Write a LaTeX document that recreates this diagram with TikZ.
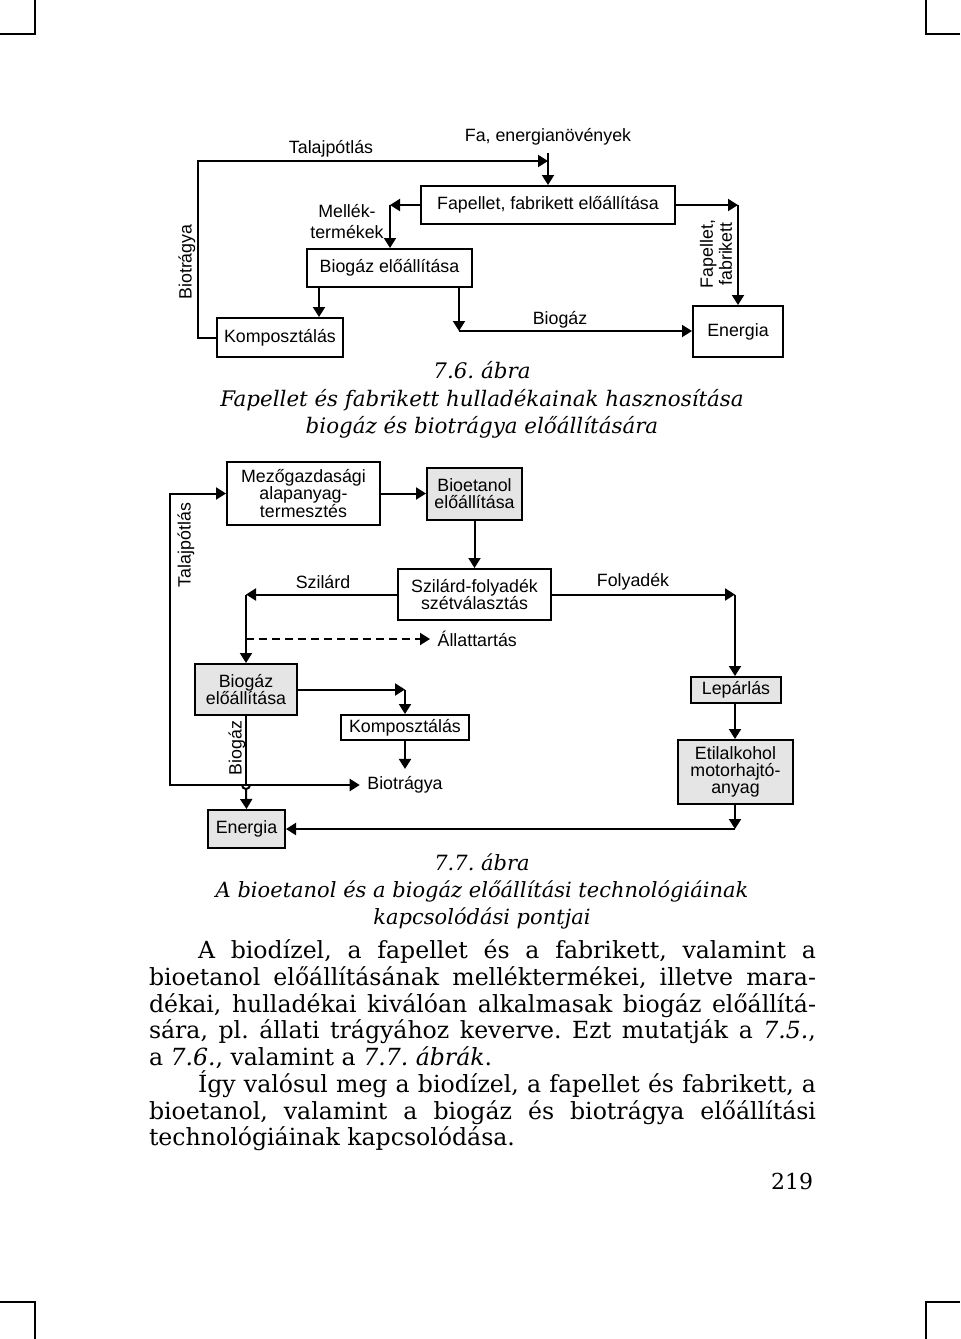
\documentclass[tikz,border=0pt]{standalone}
\usepackage{fontspec}
\setmainfont{DejaVu Serif}
\setsansfont{Liberation Sans}
\usetikzlibrary{arrows.meta}
\newcommand{\jline}[1]{\hbox to 333.5pt{#1}}
\frenchspacing

\begin{document}
\begin{tikzpicture}[x=0.5pt, y=-0.5pt, line width=1pt,
	font=\sffamily\fontsize{8.9}{8.6}\selectfont,
	>={Triangle[length=5pt,width=6pt]},
	box/.style={rectangle, draw, align=center, inner sep=0pt},
	gbox/.style={box, fill=gray!20},
	capt/.style={align=center, font=\rmfamily\itshape\fontsize{10.7}{13.75}\selectfont}]

	\useasboundingbox (0,0) rectangle (960,1339);
	\draw[line width=0.6pt] (35,0) -- (35,34) -- (0,34);
	\draw[line width=0.6pt] (926,0) -- (926,34) -- (960,34);
	\draw[line width=0.6pt] (35,1339) -- (35,1302) -- (0,1302);
	\draw[line width=0.6pt] (926,1339) -- (926,1302) -- (960,1302);

	\node (fa) at (548,137) {Fa, energianövények};
	\node (talajT) at (331,149) {Talajpótlás};
	\node[box, minimum width=127pt, minimum height=19pt] (fapellet) at (548,205) {Fapellet, fabrikett előállítása};
	\node[box, minimum width=82.5pt, minimum height=19pt] (biogazT) at (389.5,268) {Biogáz előállítása};
	\node[box, minimum width=63pt, minimum height=19.5pt] (kompT) at (280,337.5) {Komposztálás};
	\node[box, minimum width=45pt, minimum height=25.5pt] (energiaT) at (738,331.5) {Energia};
	\node[align=center, font=\sffamily\fontsize{8.9}{10.5}\selectfont] (mellek) at (347,222) {Mellék-\\termékek};
	\node[rotate=90] (biotrT) at (187,262) {Biotrágya};
	\node[rotate=90, align=center, font=\sffamily\fontsize{8.9}{9.5}\selectfont] (fpfb) at (716,254) {Fapellet,\\fabrikett};
	\node (biogazL) at (560,320) {Biogáz};

	\coordinate (tj) at (548,161);
	\coordinate (mel) at (390,205);
	\coordinate (fpr) at (738,205);
	\coordinate (kd) at (319,300);
	\coordinate (bgd) at (459,331);

	\draw[->] (fa) -- (fapellet);
	\draw[->] (kompT.west) -- ++(-18,0) |- (tj);
	\draw[->] (fapellet.west) -- (mel);
	\draw[->] (mel) -- (mel |- biogazT.north);
	\draw[->] (fapellet.east) -- (fpr);
	\draw[->] (fpr) -- (energiaT.north);
	\draw[->] (biogazT.south -| kd) -- (kompT.north -| kd);
	\draw[->] (biogazT.south -| bgd) -- (bgd);
	\draw[->] (bgd) -- (energiaT.west |- bgd);

	\node[capt] (cap76) at (482,400) {7.6. ábra\\Fapellet és fabrikett hulladékainak hasznosítása\\biogáz és biotrágya előállítására};

	\node[box, minimum width=76.5pt, minimum height=31.5pt] (mezo) at (303.5,493.5) {Mezőgazdasági\\alapanyag-\\termesztés};
	\node[gbox, minimum width=47.5pt, minimum height=26pt] (bioet) at (474.5,493.5) {Bioetanol\\előállítása};
	\node[box, minimum width=76.5pt, minimum height=25.5pt] (szf) at (474.5,594.5) {Szilárd-folyadék\\szétválasztás};
	\node[gbox, minimum width=51pt, minimum height=25.5pt] (biogazM) at (246,689.5) {Biogáz\\előállítása};
	\node[box, minimum width=64pt, minimum height=12.5pt] (kompM) at (405,727.5) {Komposztálás};
	\node[gbox, minimum width=45pt, minimum height=13pt] (lep) at (736,690) {Lepárlás};
	\node[gbox, minimum width=57.5pt, minimum height=32pt] (etil) at (735.5,772) {Etilalkohol\\motorhajtó-\\anyag};
	\node[gbox, minimum width=38.5pt, minimum height=19pt] (energiaM) at (246.5,829) {Energia};
	\node (szil) at (323,582) {Szilárd};
	\node (foly) at (633,582) {Folyadék};
	\node[anchor=west] (allat) at (430,639) {Állattartás};
	\node (bioM) at (405,785) {Biotrágya};
	\node[rotate=90] (talajM) at (186,545) {Talajpótlás};
	\node[rotate=90] (biogazV) at (237,748) {Biogáz};

	\coordinate (sz) at (246,594.5);
	\coordinate (fo) at (735,594.5);
	\coordinate (da) at (246,639);
	\coordinate (kp) at (405,689.5);
	\coordinate (et) at (735,829);
	\coordinate (tjM) at (170,493.5);
	\coordinate (jp) at (246,785);

	\draw[->] (mezo) -- (bioet);
	\draw[->] (bioet) -- (szf);
	\draw[->] (szf.west) -- (sz);
	\draw[->] (sz) -- (biogazM.north);
	\draw[->] (szf.east) -- (fo);
	\draw[->] (fo) -- (lep.north -| fo);
	\draw[->, dashed, dash pattern=on 4pt off 2.5pt] (da) -- (allat.west);
	\draw[->] (biogazM.east) -- (kp);
	\draw[->] (kp) -- (kompM.north);
	\draw[->] (kompM) -- (bioM);
	\draw[->] (lep.south -| fo) -- (etil.north -| fo);
	\draw[->] (etil.south -| et) -- (et);
	\draw[->] (et) -- (energiaM.east);
	\draw[<->] (bioM.west) -| (tjM) -- (mezo.west);
	\draw (biogazM.south) -- (jp);
	\draw ([xshift=-2pt]jp) arc[start angle=180, end angle=360, radius=2pt];
	\draw[->] ([yshift=-2pt]jp) -- (energiaM.north);

	\node[capt, font=\rmfamily\itshape\fontsize{10.5}{13.5}\selectfont] (cap77) at (482,891) {7.7. ábra\\A bioetanol és a biogáz előállítási technológiáinak\\kapcsolódási pontjai};

	\node[anchor=north west, inner sep=0pt, align=left, font=\rmfamily\fontsize{11.8}{13.35}\selectfont] (body) at (148,939) {%
		\jline{\hskip24.5pt A biodízel, a fapellet és a fabrikett, valamint a}\\
		\jline{bioetanol előállításának melléktermékei, illetve mara-}\\
		\jline{dékai, hulladékai kiválóan alkalmasak biogáz előállítá-}\\
		\jline{sára, pl. állati trágyához keverve. Ezt mutatják a \textit{7.5.},}\\
		\hbox{a \textit{7.6.}, valamint a \textit{7.7. ábrák}.}\\
		\jline{\hskip24.5pt Így valósul meg a biodízel, a fapellet és fabrikett, a}\\
		\jline{bioetanol, valamint a biogáz és biotrágya előállítási}\\
		\hbox{technológiáinak kapcsolódása.}};
	\node[anchor=east, inner sep=0pt, font=\rmfamily\fontsize{11}{13}\selectfont] (page) at (814,1181) {219};
\end{tikzpicture}
\end{document}
